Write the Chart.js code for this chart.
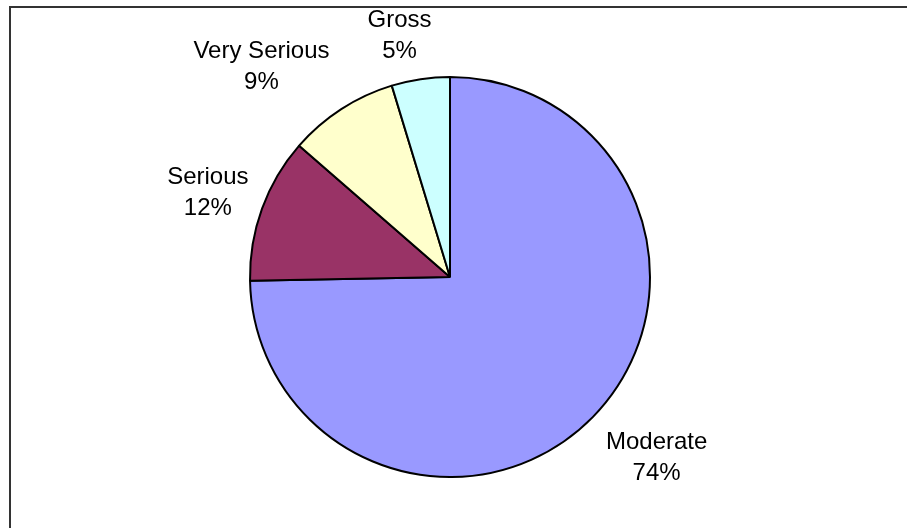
<!DOCTYPE html>
<html>
<head>
<meta charset="utf-8">
<script src="https://cdn.jsdelivr.net/npm/chart.js@4"></script>
<style>
    html, body { margin: 0; padding: 0; background: #fff; overflow: hidden; }
    #wrap { position: relative; width: 907px; height: 528px; }
    #frame { position: absolute; left: 9px; top: 6px; width: 1000px; height: 1000px;
             border-left: 2px solid #333; border-top: 2px solid #333; }
    #pieChart { position: absolute; left: 0; top: 0; }
</style>
</head>
<body>
<div id="wrap">
    <div id="frame"></div>
    <canvas id="pieChart" width="907" height="528"></canvas>
</div>
<script>
// 데이터 (그림에서 읽은 값, 퍼센트)
const categories = ['Moderate', 'Serious', 'Very Serious', 'Gross'];
const shares = [74.7, 11.7, 8.9, 4.7];
const percentLabels = ['74%', '12%', '9%', '5%'];
const sliceColors = ['#9999FF', '#993366', '#FFFFCC', '#CCFFFF'];

// 라벨을 파이 바깥에 그려주는 플러그인
const outsideLabels = {
    id: 'outsideLabels',
    afterDatasetsDraw(chart, args, opts) {
        const ctx = chart.ctx;
        const meta = chart.getDatasetMeta(0);
        ctx.save();
        ctx.font = opts.font;
        ctx.fillStyle = '#000';
        ctx.textAlign = 'center';
        ctx.textBaseline = 'middle';
        meta.data.forEach((arc, i) => {
            const mid = (arc.startAngle + arc.endAngle) / 2;
            const ux = Math.cos(mid), uy = Math.sin(mid);
            const lines = [categories[i], percentLabels[i]];
            const w = Math.max(...lines.map(t => ctx.measureText(t).width));
            const h = lines.length * opts.lineHeight;
            // 박스가 파이 바깥쪽에 닿도록 중심을 밀어줌
            const push = Math.abs(ux) * w / 2 + Math.abs(uy) * h / 2;
            const d = arc.outerRadius + opts.gap + push;
            const nudge = opts.nudge[i] || [0, 0];   // 엑셀 배치랑 맞추려고 살짝 옮김
            const cx = arc.x + ux * d + nudge[0];
            const cy = arc.y + uy * d + nudge[1];
            lines.forEach((t, k) => {
                ctx.fillText(t, cx, cy + (k - (lines.length - 1) / 2) * opts.lineHeight);
            });
        });
        ctx.restore();
    }
};

new Chart(document.getElementById('pieChart').getContext('2d'), {
    type: 'pie',
    data: {
        labels: categories,
        datasets: [{
            data: shares,
            backgroundColor: sliceColors,
            borderColor: '#000',
            borderWidth: 2
        }]
    },
    options: {
        responsive: false,
        devicePixelRatio: 1,
        animation: false,
        layout: { padding: { top: 76, bottom: 50, left: 249, right: 256 } },
        plugins: {
            legend: { display: false },
            tooltip: { enabled: false },
            outsideLabels: {
                font: '24px "Liberation Sans", Arial, sans-serif',
                lineHeight: 31,
                gap: 12,
                nudge: { 0: [14, -8], 1: [3, 5], 2: [-39, 21], 3: [-14, 4] }
            }
        }
    },
    plugins: [outsideLabels]
});
</script>
</body>
</html>
